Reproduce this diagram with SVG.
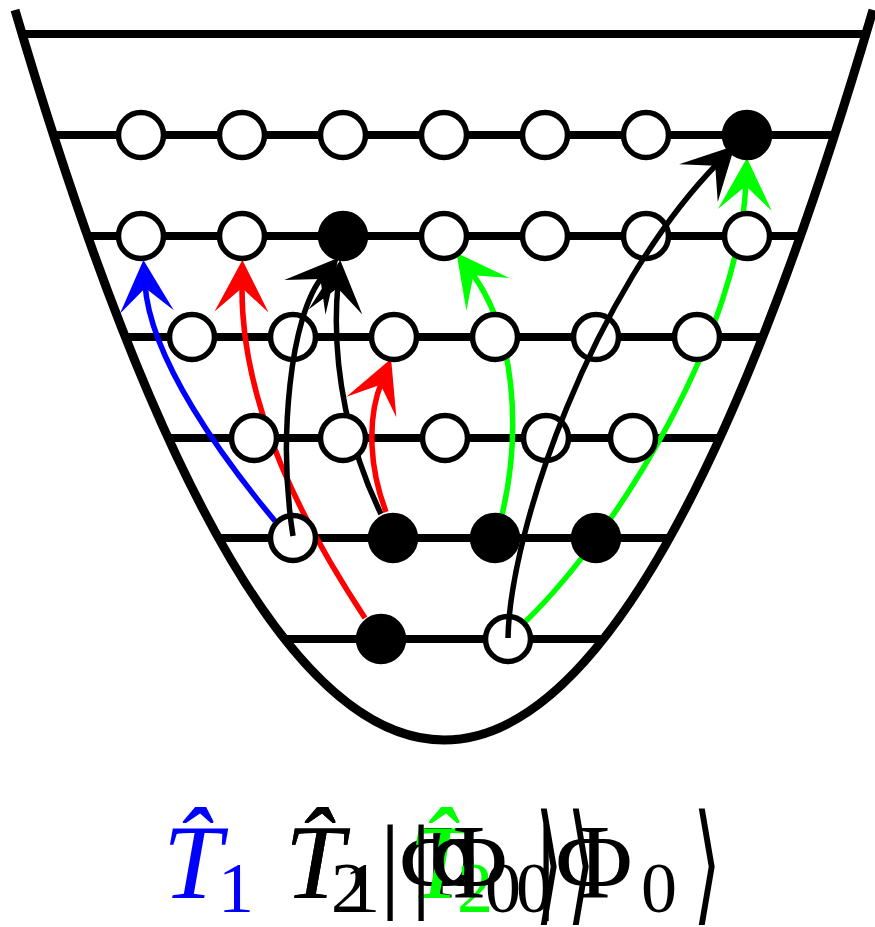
<svg xmlns="http://www.w3.org/2000/svg" width="875" height="927" viewBox="0 0 875 927">
<style>
.well{fill:none;stroke:#000;stroke-width:9}
.lvl{stroke:#000;stroke-width:8}
.orb{stroke:#000;stroke-width:5.5}
.e{fill:#fff}
.o{fill:#000}
.arr{fill:none;stroke-width:5.5}
.b{stroke:#0000ff}
.r{stroke:#ff0000}
.g{stroke:#00ff00}
.k{stroke:#000}
.lab{font-family:"Liberation Serif","DejaVu Serif",serif}
.it{font-style:italic}
.ang{font-family:"DejaVu Sans",sans-serif;font-size:131px}
</style>
<defs>
<marker id="mb" markerUnits="userSpaceOnUse" viewBox="-30 -29 56 58" markerWidth="56" markerHeight="58" refX="0" refY="0" orient="auto"><path d="M24,0 L-28,-27 L-4,0 L-28,27 Z" fill="#0000ff"/></marker>
<marker id="mr" markerUnits="userSpaceOnUse" viewBox="-30 -29 56 58" markerWidth="56" markerHeight="58" refX="0" refY="0" orient="auto"><path d="M24,0 L-28,-27 L-4,0 L-28,27 Z" fill="#ff0000"/></marker>
<marker id="mg" markerUnits="userSpaceOnUse" viewBox="-30 -29 56 58" markerWidth="56" markerHeight="58" refX="0" refY="0" orient="auto"><path d="M24,0 L-28,-27 L-4,0 L-28,27 Z" fill="#00ff00"/></marker>
<marker id="mk" markerUnits="userSpaceOnUse" viewBox="-30 -29 56 58" markerWidth="56" markerHeight="58" refX="0" refY="0" orient="auto"><path d="M24,0 L-28,-27 L-4,0 L-28,27 Z" fill="#000"/></marker>
</defs>

<g id="well">
<path class="well" d="M15,10 Q444,1470 873,10"/>
<line class="lvl" x1="24" y1="34" x2="866" y2="34"/>
<line class="lvl" x1="54" y1="135" x2="835" y2="135"/>
<line class="lvl" x1="88" y1="236" x2="801" y2="236"/>
<line class="lvl" x1="126" y1="337" x2="763" y2="337"/>
<line class="lvl" x1="169" y1="438" x2="720" y2="438"/>
<line class="lvl" x1="219" y1="538" x2="670" y2="538"/>
<line class="lvl" x1="285" y1="639" x2="604" y2="639"/>
</g>

<g id="connectors-back">
<path class="arr b" d="M275,521 C225,461 150,360 145,284" marker-end="url(#mb)"/>
<path class="arr r" d="M365,618 C309,533 240,410 242,284" marker-end="url(#mr)"/>
<path class="arr k" d="M381,514 C352,455 330,370 338,284" marker-end="url(#mk)"/>
<path class="arr r" d="M386,512 C370,470 366,420 382,381" marker-end="url(#mr)"/>
<path class="arr g" d="M502,515 C522,430 515,330 471,272" marker-end="url(#mg)"/>
<path class="arr g" d="M525,622 C620,530 740,330 746,182" marker-end="url(#mg)"/>
</g>

<g id="n1-1"><circle class="orb e" cx="141" cy="135" r="22.5"/></g>
<g id="n1-2"><circle class="orb e" cx="242" cy="135" r="22.5"/></g>
<g id="n1-3"><circle class="orb e" cx="343" cy="135" r="22.5"/></g>
<g id="n1-4"><circle class="orb e" cx="444" cy="135" r="22.5"/></g>
<g id="n1-5"><circle class="orb e" cx="545" cy="135" r="22.5"/></g>
<g id="n1-6"><circle class="orb e" cx="646" cy="135" r="22.5"/></g>
<g id="n1-7"><circle class="orb o" cx="747" cy="135" r="22.5"/></g>

<g id="n2-1"><circle class="orb e" cx="141" cy="236" r="22.5"/></g>
<g id="n2-2"><circle class="orb e" cx="242" cy="236" r="22.5"/></g>
<g id="n2-3"><circle class="orb o" cx="343" cy="236" r="22.5"/></g>
<g id="n2-4"><circle class="orb e" cx="444" cy="236" r="22.5"/></g>
<g id="n2-5"><circle class="orb e" cx="545" cy="236" r="22.5"/></g>
<g id="n2-6"><circle class="orb e" cx="646" cy="236" r="22.5"/></g>
<g id="n2-7"><circle class="orb e" cx="747" cy="236" r="22.5"/></g>

<g id="n3-1"><circle class="orb e" cx="192" cy="337" r="22.5"/></g>
<g id="n3-2"><circle class="orb e" cx="293" cy="337" r="22.5"/></g>
<g id="n3-3"><circle class="orb e" cx="394" cy="337" r="22.5"/></g>
<g id="n3-4"><circle class="orb e" cx="495" cy="337" r="22.5"/></g>
<g id="n3-5"><circle class="orb e" cx="596" cy="337" r="22.5"/></g>
<g id="n3-6"><circle class="orb e" cx="697" cy="337" r="22.5"/></g>

<g id="n4-1"><circle class="orb e" cx="254" cy="438" r="22.5"/></g>
<g id="n4-2"><circle class="orb e" cx="343" cy="438" r="22.5"/></g>
<g id="n4-3"><circle class="orb e" cx="445" cy="438" r="22.5"/></g>
<g id="n4-4"><circle class="orb e" cx="546" cy="438" r="22.5"/></g>
<g id="n4-5"><circle class="orb e" cx="633" cy="438" r="22.5"/></g>

<g id="n5-1"><circle class="orb e" cx="293" cy="538" r="22.5"/></g>
<g id="n5-2"><circle class="orb o" cx="393" cy="538" r="22.5"/></g>
<g id="n5-3"><circle class="orb o" cx="495" cy="538" r="22.5"/></g>
<g id="n5-4"><circle class="orb o" cx="596" cy="538" r="22.5"/></g>

<g id="n6-1"><circle class="orb o" cx="381" cy="639" r="22.5"/></g>
<g id="n6-2"><circle class="orb e" cx="508" cy="639" r="22.5"/></g>

<g id="connectors-front">
<path class="arr k" d="M293,536 C278,440 290,315 323,276" marker-end="url(#mk)"/>
<path class="arr k" d="M508,638 C510,530 592,292 718,163" marker-end="url(#mk)"/>
</g>

<g id="label" class="lab">
<text class="it" x="163" y="898" font-size="106" fill="#0000ff">T&#x302;</text>
<text x="236" y="912" font-size="72" fill="#0000ff" text-anchor="middle">1</text>
<text class="it" x="285" y="898" font-size="106" fill="#000">T&#x302;</text>
<text x="362" y="912" font-size="72" fill="#000" text-anchor="middle">1</text>
<text class="it" x="285" y="898" font-size="106" fill="#000">T&#x302;</text>
<text x="349" y="912" font-size="72" fill="#000" text-anchor="middle">2</text>
<text font-size="106" fill="#000" text-anchor="middle" y="898"><tspan x="390">|</tspan><tspan x="438">Φ</tspan><tspan x="503" y="912" font-size="72">0</tspan></text>
<text class="ang" transform="translate(549,908) scale(0.55,1)" text-anchor="middle" fill="#000">⟩</text>
<text class="it" x="409" y="898" font-size="106" fill="#00ff00">T&#x302;</text>
<text x="475" y="912" font-size="72" fill="#00ff00" text-anchor="middle">2</text>
<text font-size="106" fill="#000" text-anchor="middle" y="898"><tspan x="421">|</tspan><tspan x="469">Φ</tspan><tspan x="534" y="912" font-size="72">0</tspan></text>
<text class="ang" transform="translate(581,908) scale(0.55,1)" text-anchor="middle" fill="#000">⟩</text>
<text font-size="106" fill="#000" text-anchor="middle" y="898"><tspan x="546">|</tspan><tspan x="594">Φ</tspan><tspan x="659" y="912" font-size="72">0</tspan></text>
<text class="ang" transform="translate(707,908) scale(0.55,1)" text-anchor="middle" fill="#000">⟩</text>
</g>
</svg>
